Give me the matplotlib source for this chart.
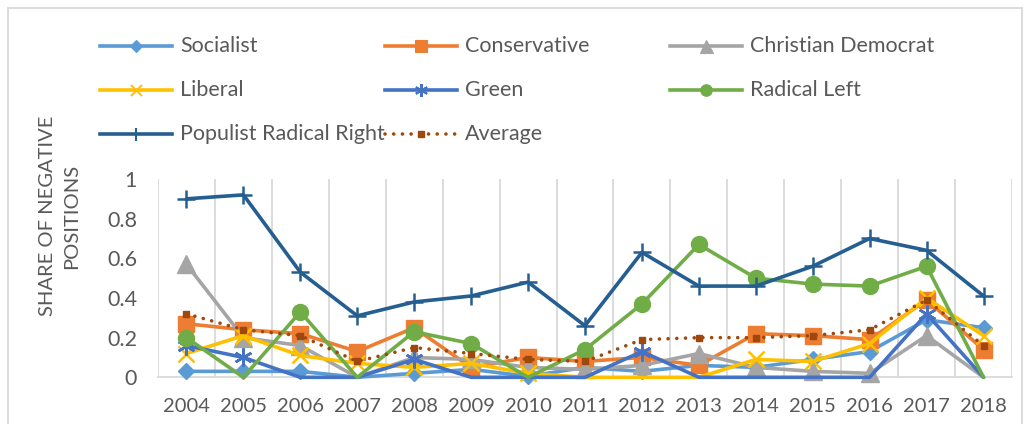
import matplotlib
matplotlib.use("Agg")
import matplotlib.pyplot as plt
from matplotlib.lines import Line2D
from matplotlib.patches import Rectangle
import numpy as np

years = [str(y) for y in range(2004, 2019)]

# None = empty cell (Excel draws the line at zero, without a marker)
socialist      = [0.03, 0.03, 0.03, None, 0.02, 0.04, 0.005, 0.05, 0.03, 0.06, 0.05, 0.09, 0.13, 0.29, 0.25]
conservative   = [0.27, 0.24, 0.22, 0.13, 0.25, 0.05, 0.10, 0.08, 0.10, 0.06, 0.22, 0.21, 0.19, 0.39, 0.14]
christian_dem  = [0.57, 0.20, 0.16, None, 0.10, 0.09, 0.05, 0.04, 0.06, 0.12, 0.05, 0.03, 0.02, 0.21, None]
liberal        = [0.12, 0.21, 0.11, 0.07, 0.05, 0.07, 0.02, None, None, None, 0.09, 0.08, 0.17, 0.40, 0.21]
green          = [0.16, 0.10, None, None, 0.09, None, None, None, 0.13, None, None, None, None, 0.32, None]
radical_left   = [0.20, None, 0.33, None, 0.23, 0.17, None, 0.14, 0.37, 0.67, 0.50, 0.47, 0.46, 0.56, None]
populist_rr    = [0.90, 0.92, 0.53, 0.31, 0.38, 0.41, 0.48, 0.26, 0.63, 0.46, 0.46, 0.56, 0.70, 0.64, 0.41]
average        = [0.32, 0.24, 0.21, 0.08, 0.15, 0.12, 0.09, 0.08, 0.19, 0.20, 0.20, 0.21, 0.24, 0.39, 0.16]

yticks = [0, 0.2, 0.4, 0.6, 0.8, 1]
ytick_labels = ["0", "0.2", "0.4", "0.6", "0.8", "1"]

FONT = ["Lato", "DejaVu Sans"]
FS = 15.5
TXT = "#595959"
GRID = "#D9D9D9"

W, H = 1031, 424
fig = plt.figure(figsize=(W / 100, H / 100), dpi=100)

def fx(px):
    return px / W

def fy(py):
    return 1 - py / H

ax = fig.add_axes([fx(158), fy(377.3), fx(1012) - fx(158), fy(179) - fy(377.3)])

x = np.arange(len(years))

series = [
    ("Socialist", socialist, dict(color="#5B9BD5", marker="D", ms=8.5, mew=1)),
    ("Conservative", conservative, dict(color="#ED7D31", marker="s", ms=12, mew=1)),
    ("Christian Democrat", christian_dem, dict(color="#A5A5A5", marker="^", ms=13, mew=1)),
    ("Liberal", liberal, dict(color="#FFC000", marker="x", ms=11, mew=1.8)),
    ("Green", green, dict(color="#4472C4", marker=(6, 2, 0), ms=13, mew=1.8)),
    ("Radical Left", radical_left, dict(color="#70AD47", marker="o", ms=11.5, mew=1)),
    ("Populist Radical Right", populist_rr, dict(color="#255E91", marker="+", ms=13, mew=1.8)),
]

for name, vals, st in series:
    line_vals = np.array([0.0 if v is None else v for v in vals])
    mark_vals = np.array([np.nan if v is None else v for v in vals])
    ax.plot(x, line_vals, color=st["color"], lw=2.6, clip_on=False,
            solid_joinstyle="round", solid_capstyle="round", zorder=3)
    ax.plot(x, mark_vals, lw=0, marker=st["marker"], ms=st["ms"], mew=st["mew"],
            mfc=st["color"], mec=st["color"], clip_on=False, zorder=3)

ax.plot(x, average, color="#9E480E", lw=2.6, linestyle=(0, (0.01, 2.4)),
        dash_capstyle="round", marker="s", ms=5, mfc="#9E480E", mec="#9E480E",
        clip_on=False, zorder=4)

ax.set_xlim(-0.5, len(years) - 0.5)
ax.set_ylim(0, 1)
ax.set_xticks(x)
ax.set_xticklabels(years, fontsize=14.5, color=TXT, family=FONT)
ax.set_yticks(yticks)
ax.set_yticklabels(ytick_labels, fontsize=FS, color=TXT, family=FONT)
ax.tick_params(axis="both", length=0)
ax.tick_params(axis="y", pad=15)
ax.tick_params(axis="x", pad=15)

for b in np.arange(len(years) + 1) - 0.5:
    ax.axvline(b, color=GRID, lw=1.3, zorder=1)

for s in ["top", "right", "left"]:
    ax.spines[s].set_visible(False)
ax.spines["bottom"].set_color(GRID)
ax.spines["bottom"].set_linewidth(1.3)

fig.text(fx(60), fy(216), "SHARE OF NEGATIVE\nPOSITIONS", rotation=90, ha="center",
         va="center", multialignment="center", fontsize=14.5, color=TXT, family=FONT,
         linespacing=1.5)

# Legend (manual, row-major as in reference)
leg_items = [
    (0, 0, series[0]), (0, 1, series[1]), (0, 2, series[2]),
    (1, 0, series[3]), (1, 1, series[4]), (1, 2, series[5]),
    (2, 0, series[6]),
]
col_x = [100, 385, 670]
row_y = [46, 90, 134]
hl = 72
for r, c, (name, _, st) in leg_items:
    x0 = col_x[c]
    y0 = row_y[r]
    fig.add_artist(Line2D([fx(x0), fx(x0 + hl)], [fy(y0), fy(y0)], transform=fig.transFigure,
                          color=st["color"], lw=2.6))
    fig.add_artist(Line2D([fx(x0 + hl / 2)], [fy(y0)], transform=fig.transFigure,
                          color=st["color"], marker=st["marker"], ms=st["ms"] * 0.72,
                          mew=st["mew"] * 0.8, mfc=st["color"], mec=st["color"], lw=0))
    fig.text(fx(x0 + hl + 8), fy(y0), name, ha="left", va="center", fontsize=FS,
             color=TXT, family=FONT)

# Average legend entry
x0, y0 = col_x[1], row_y[2]
fig.add_artist(Line2D([fx(x0), fx(x0 + hl)], [fy(y0), fy(y0)], transform=fig.transFigure,
                      color="#9E480E", lw=2.6, linestyle=(0, (0.01, 2.4)),
                      dash_capstyle="round"))
fig.add_artist(Line2D([fx(x0 + hl / 2)], [fy(y0)], transform=fig.transFigure,
                      color="#9E480E", marker="s", ms=5, lw=0))
fig.text(fx(x0 + hl + 8), fy(y0), "Average", ha="left", va="center", fontsize=FS,
         color=TXT, family=FONT)

# Outer chart border
fig.add_artist(Rectangle((fx(8), fy(440)), fx(1022) - fx(8), fy(8) - fy(440),
                         transform=fig.transFigure, fill=False, edgecolor=GRID, lw=1.3))

fig.savefig("out.png", dpi=100)
